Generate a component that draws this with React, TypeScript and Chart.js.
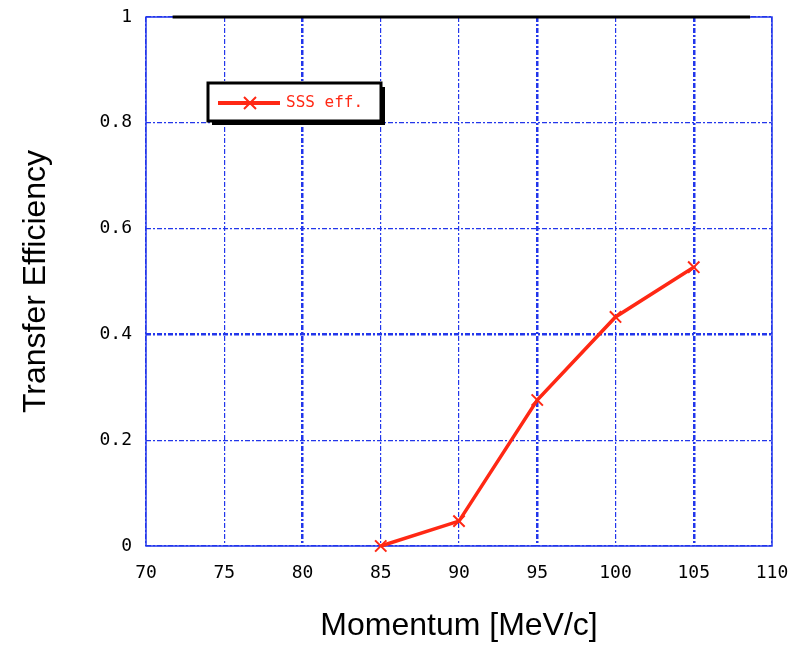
import React, { useEffect, useRef } from "react";
import { Chart, registerables } from "chart.js";

Chart.register(...registerables);

const momentum = [85, 90, 95, 100, 105];
const efficiency = [0.0, 0.047, 0.276, 0.433, 0.527];
const refLineX = [71.7, 108.6];
const refLineY = [1, 1];
const seriesLabel = "SSS eff.";
const xTitle = "Momentum [MeV/c]";
const yTitle = "Transfer Efficiency";

const BLUE = "rgb(35,55,235)";
const RED = "rgb(255,40,20)";

const framePlugin = {
  id: "frame",
  beforeDatasetsDraw(chart: any) {
    const { ctx, chartArea: a } = chart;
    ctx.save();
    ctx.strokeStyle = BLUE;
    ctx.lineWidth = 1.5;
    ctx.setLineDash([]);
    ctx.strokeRect(a.left, a.top, a.right - a.left, a.bottom - a.top);
    ctx.restore();
  },
};

const legendPlugin = {
  id: "boxLegend",
  afterDraw(chart: any) {
    const { ctx } = chart;
    const x = 208, y = 83, w = 173, h = 38;
    ctx.save();
    ctx.fillStyle = "#000";
    ctx.fillRect(x + 4, y + 4, w, h);
    ctx.fillStyle = "#fff";
    ctx.fillRect(x, y, w, h);
    ctx.strokeStyle = "#000";
    ctx.lineWidth = 3;
    ctx.strokeRect(x, y, w, h);
    const cy = y + h / 2 + 1;
    ctx.strokeStyle = RED;
    ctx.lineWidth = 4;
    ctx.beginPath();
    ctx.moveTo(218, cy);
    ctx.lineTo(280, cy);
    ctx.stroke();
    ctx.lineWidth = 2;
    ctx.beginPath();
    ctx.moveTo(244, cy - 6);
    ctx.lineTo(256, cy + 6);
    ctx.moveTo(256, cy - 6);
    ctx.lineTo(244, cy + 6);
    ctx.stroke();
    ctx.fillStyle = RED;
    ctx.font = "16px 'DejaVu Sans Mono'";
    ctx.textBaseline = "middle";
    ctx.textAlign = "left";
    ctx.fillText(seriesLabel, 286, cy);
    ctx.restore();
  },
};

export default function App() {
  const ref = useRef<HTMLCanvasElement>(null);
  useEffect(() => {
    document.body.style.margin = "0";
    const chart = new Chart(ref.current!, {
      type: "line",
      data: {
        datasets: [
          {
            label: "ref",
            data: refLineX.map((x, i) => ({ x, y: refLineY[i] })),
            borderColor: "#000",
            borderWidth: 3,
            pointRadius: 0,
            clip: false,
          },
          {
            label: seriesLabel,
            data: momentum.map((x, i) => ({ x, y: efficiency[i] })),
            borderColor: RED,
            backgroundColor: RED,
            borderWidth: 3.5,
            pointStyle: "crossRot",
            pointRadius: 8,
            pointBorderWidth: 2,
            pointBorderColor: RED,
            clip: false,
          },
        ],
      },
      options: {
        animation: false,
        responsive: false,
        events: [],
        layout: { padding: { top: 17, right: 22, left: 0, bottom: 0 } },
        plugins: { legend: { display: false }, tooltip: { enabled: false } },
        scales: {
          x: {
            type: "linear",
            min: 70,
            max: 110,
            ticks: {
              stepSize: 5,
              padding: 17,
              color: "#000",
              font: { family: "DejaVu Sans Mono", size: 18 },
            },
            grid: {
              color: BLUE,
              drawTicks: false,
              lineWidth: (c: any) => ([80, 95, 105].includes(c.tick?.value) ? 2.5 : 1.2),
            },
            border: { display: false, dash: [5, 2, 2, 2] },
            title: {
              display: true,
              text: xTitle,
              color: "#000",
              font: { family: "Liberation Sans", size: 32 },
              padding: { top: 0, bottom: 0 },
            },
            afterFit: (s: any) => {
              s.height = 99;
              s.paddingLeft = 0;
              s.paddingRight = 0;
            },
          },
          y: {
            min: 0,
            max: 1,
            ticks: {
              stepSize: 0.2,
              padding: 14,
              color: "#000",
              font: { family: "DejaVu Sans Mono", size: 18 },
              callback: (v: any) => String(Math.round(Number(v) * 10) / 10),
            },
            grid: {
              color: BLUE,
              drawTicks: false,
              lineWidth: (c: any) => (c.tick?.value === 0.4 ? 2.5 : 1.2),
            },
            border: { display: false, dash: [5, 2, 2, 2] },
            title: {
              display: true,
              text: yTitle,
              color: "#000",
              font: { family: "Liberation Sans", size: 32 },
              padding: { top: 17, bottom: 0 },
            },
            afterFit: (s: any) => {
              s.width = 146;
              s.paddingTop = 0;
              s.paddingBottom = 0;
            },
          },
        },
      },
      plugins: [framePlugin, legendPlugin],
    });
    return () => chart.destroy();
  }, []);
  return (
    <div style={{ width: 794, height: 645 }}>
      <canvas ref={ref} width={794} height={645} style={{ display: "block" }} />
    </div>
  );
}
